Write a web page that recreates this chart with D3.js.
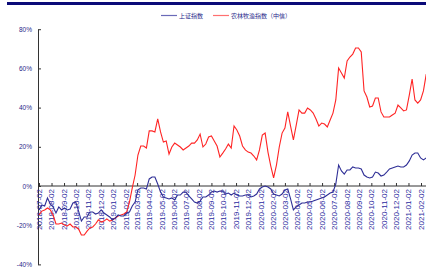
<!DOCTYPE html>
<html><head><meta charset="utf-8">
<script src="https://cdn.jsdelivr.net/npm/d3@7"></script>
<style>html,body{margin:0;padding:0;background:#fff;}svg{display:block;}</style>
</head><body>
<svg id="c" width="426" height="267"></svg>
<script>
const seriesNames = ["上证指数", "农林牧渔指数（中信）"];
const dates = [
"2018-07-02","2018-07-09","2018-07-16","2018-07-23","2018-07-30","2018-08-06","2018-08-13","2018-08-20","2018-08-27","2018-09-03",
"2018-09-10","2018-09-17","2018-09-24","2018-10-01","2018-10-08","2018-10-15","2018-10-22","2018-10-29","2018-11-05","2018-11-12",
"2018-11-19","2018-11-26","2018-12-03","2018-12-10","2018-12-17","2018-12-24","2018-12-31","2019-01-07","2019-01-14","2019-01-21",
"2019-01-28","2019-02-04","2019-02-11","2019-02-18","2019-02-25","2019-03-04","2019-03-11","2019-03-18","2019-03-25","2019-04-01",
"2019-04-08","2019-04-15","2019-04-22","2019-04-29","2019-05-06","2019-05-13","2019-05-20","2019-05-27","2019-06-03","2019-06-10",
"2019-06-17","2019-06-24","2019-07-01","2019-07-08","2019-07-15","2019-07-22","2019-07-29","2019-08-05","2019-08-12","2019-08-19",
"2019-08-26","2019-09-02","2019-09-09","2019-09-16","2019-09-23","2019-09-30","2019-10-07","2019-10-14","2019-10-21","2019-10-28",
"2019-11-04","2019-11-11","2019-11-18","2019-11-25","2019-12-02","2019-12-09","2019-12-16","2019-12-23","2019-12-30","2020-01-06",
"2020-01-13","2020-01-20","2020-01-27","2020-02-03","2020-02-10","2020-02-17","2020-02-24","2020-03-02","2020-03-09","2020-03-16",
"2020-03-23","2020-03-30","2020-04-06","2020-04-13","2020-04-20","2020-04-27","2020-05-04","2020-05-11","2020-05-18","2020-05-25",
"2020-06-01","2020-06-08","2020-06-15","2020-06-22","2020-06-29","2020-07-06","2020-07-13","2020-07-20","2020-07-27","2020-08-03",
"2020-08-10","2020-08-17","2020-08-24","2020-08-31","2020-09-07","2020-09-14","2020-09-21","2020-09-28","2020-10-05","2020-10-12",
"2020-10-19","2020-10-26","2020-11-02","2020-11-09","2020-11-16","2020-11-23","2020-11-30","2020-12-07","2020-12-14","2020-12-21",
"2020-12-28","2021-01-04","2021-01-11","2021-01-18","2021-01-25","2021-02-01","2021-02-08","2021-02-15"];
const shIndex = [
-12.2,-9.7,-10.2,-6.1,-9.2,-10.7,-13.8,-10.7,-12.2,-11.2,
-12.2,-11.7,-8.7,-8.2,-12.8,-17.9,-15.8,-15.8,-13.3,-13.3,
-14.3,-13.8,-12.2,-13.8,-14.8,-15.8,-17.3,-16.3,-14.8,-15.3,
-15.3,-13.8,-13.3,-10.2,-8.2,-2.0,-1.0,-1.0,-1.5,3.6,
4.6,4.6,1.0,-3.1,-5.6,-6.1,-6.6,-6.1,-7.1,-4.6,
-4.6,-3.1,-3.1,-5.1,-6.6,-8.2,-8.7,-7.7,-5.6,-5.6,
-4.6,-3.1,-2.6,-3.1,-2.6,-2.6,-4.1,-3.6,-4.6,-3.6,
-4.6,-5.1,-5.1,-4.6,-4.6,-5.6,-5.1,-4.1,-1.5,-0.5,
0.0,-0.5,-1.5,-4.1,-4.6,-5.1,-4.1,-2.0,-1.5,-6.6,
-12.2,-10.7,-9.7,-8.7,-8.7,-8.2,-8.2,-7.7,-7.1,-6.6,
-6.1,-5.6,-4.6,-3.6,-3.1,1.0,10.7,7.7,6.1,8.2,
8.2,9.7,9.2,9.2,8.7,5.6,4.6,4.1,4.6,7.1,
6.6,5.1,5.6,7.1,8.7,9.2,9.7,10.2,9.7,9.7,
10.7,12.8,15.8,16.8,16.8,14.3,13.3,14.3];
const agriIndex = [
-14.8,-12.8,-12.2,-11.2,-12.2,-14.8,-19.4,-19.4,-18.9,-19.9,
-20.4,-19.4,-20.9,-20.9,-21.9,-25.0,-25.0,-23.0,-21.4,-20.9,
-19.4,-17.3,-18.4,-17.9,-16.8,-17.9,-17.3,-16.3,-15.3,-14.8,
-14.3,-13.3,-8.2,-1.0,5.6,15.8,20.4,20.4,19.4,28.1,
28.1,27.6,34.2,27.6,22.4,23.0,16.3,19.9,21.9,20.9,
19.9,18.4,19.4,20.4,21.9,21.9,23.5,26.5,19.9,21.4,
25.0,25.5,23.0,20.4,14.8,16.8,18.9,21.4,19.4,30.6,
28.6,25.5,20.4,18.4,17.3,16.8,15.3,13.3,18.4,26.0,
27.0,17.3,10.2,4.1,10.7,19.9,27.0,29.6,37.8,30.6,
23.5,31.1,38.8,37.2,37.2,39.8,38.8,37.2,34.2,30.6,
32.1,31.6,30.1,33.7,37.2,43.9,60.2,57.7,55.1,63.8,
65.8,67.3,70.4,70.4,68.4,48.5,45.4,40.3,40.8,44.9,
44.9,37.8,35.2,35.2,35.2,36.2,37.2,41.3,39.8,38.3,
38.8,46.4,54.6,43.9,42.3,43.9,48.5,57.1];
const xTickLabels = [
"2018-07-02","2018-08-02","2018-09-02","2018-10-02","2018-11-02","2018-12-02",
"2019-01-02","2019-02-02","2019-03-02","2019-04-02","2019-05-02","2019-06-02",
"2019-07-02","2019-08-02","2019-09-02","2019-10-02","2019-11-02","2019-12-02",
"2020-01-02","2020-02-02","2020-03-02","2020-04-02","2020-05-02","2020-06-02",
"2020-07-02","2020-08-02","2020-09-02","2020-10-02","2020-11-02","2020-12-02",
"2021-01-02","2021-02-02"];
const yTicks = [-40, -20, 0, 20, 40, 60, 80];

const parse = d3.timeParse("%Y-%m-%d");
const svg = d3.select("#c");
const navy = "#1f1f8a";
const blue = "#2e2e96";
const red = "#ff2424";

// top bar
svg.append("rect").attr("x", 7).attr("y", 2).attr("width", 419).attr("height", 3).attr("fill", "#0a0a78");

const x = d3.scaleTime().domain([parse("2018-07-02"), parse("2021-02-02")]).range([39, 421]);
const y = d3.scaleLinear().domain([-40, 80]).range([264.4, 29.2]);

// Y axis
const yAxis = svg.append("g").attr("transform", "translate(38,0)")
  .call(d3.axisLeft(y).tickValues(yTicks).tickSizeInner(-3).tickSizeOuter(0).tickPadding(6).tickFormat(d => d + "%"));
yAxis.select(".domain").attr("stroke", "#333").attr("stroke-width", 1);
yAxis.selectAll(".tick line").attr("stroke", "#333");
yAxis.selectAll("text").attr("fill", navy).style("font-family", "Arial, 'Liberation Sans', sans-serif").style("font-size", "6.5px");

// X axis at 0
const xAxis = svg.append("g").attr("transform", `translate(0,${y(0)})`)
  .call(d3.axisBottom(x).tickValues(xTickLabels.map(parse)).tickSizeInner(-3).tickSizeOuter(0).tickFormat(""));
xAxis.select(".domain").attr("stroke", "#333").attr("d", `M38,0H426`);
xAxis.selectAll(".tick line").attr("stroke", "#333");

// rotated x labels
svg.append("g").selectAll("text").data(xTickLabels).join("text")
  .attr("transform", d => `translate(${x(parse(d))},${y(0) + 3}) rotate(-90)`)
  .attr("text-anchor", "end").attr("dy", "0.35em")
  .attr("fill", "#2a2aa0")
  .style("font-family", "Arial, 'Liberation Sans', sans-serif").style("font-size", "8px")
  .text(d => d);

// lines
const clip = svg.append("clipPath").attr("id", "pc").append("rect").attr("x", 38).attr("y", 0).attr("width", 388).attr("height", 267);
const line = vals => d3.line().x((d, i) => x(parse(dates[i]))).y(d => y(d))(vals);
svg.append("path").attr("d", line(agriIndex)).attr("fill", "none").attr("stroke", red).attr("stroke-width", 1.1).attr("clip-path", "url(#pc)");
svg.append("path").attr("d", line(shIndex)).attr("fill", "none").attr("stroke", blue).attr("stroke-width", 1.1).attr("clip-path", "url(#pc)");

// legend
const lg = svg.append("g").style("font-family", "'Noto Sans CJK SC', sans-serif").style("font-size", "6px");
const legendItems = [{name: seriesNames[0], color: "#6a6ab8", x: 161}, {name: seriesNames[1], color: "#ff7070", x: 213}];
legendItems.forEach(it => {
  lg.append("line").attr("x1", it.x).attr("x2", it.x + 16).attr("y1", 15.5).attr("y2", 15.5).attr("stroke", it.color).attr("stroke-width", 1.2);
  lg.append("text").attr("x", it.x + 18).attr("y", 17.5).attr("fill", navy).text(it.name);
});
</script>
</body></html>
